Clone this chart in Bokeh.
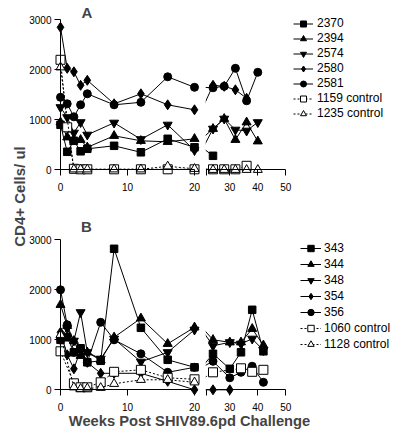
import math
from bokeh.plotting import figure
from bokeh.models import (Range1d, LinearAxis, FixedTicker, Legend, LegendItem,
                          Label, BoxAnnotation)
from bokeh.embed import file_html
from bokeh.resources import INLINE

# ---------------- data ----------------
# Panel A
A_NAMES = ["2370", "2394", "2574", "2580", "2581", "1159 control", "1235 control"]
A_WEEKS_2370 = [0, 1, 2, 3, 4, 8, 12, 16, 20, 24]
A_CD4_2370 = [900, 360, 580, 370, 420, 480, 350, 620, 450, 280]
A_WEEKS_2394 = [0, 1, 2, 3, 4, 8, 12, 16, 20, 24, 28, 32, 36, 40]
A_CD4_2394 = [950, 650, 600, 600, 450, 680, 580, 560, 620, 820, 1020, 600, 950, 570]
A_WEEKS_2574 = [0, 1, 2, 3, 4, 8, 12, 16, 20, 24, 28, 32, 36, 40]
A_CD4_2574 = [1250, 1050, 740, 950, 700, 940, 610, 900, 390, 820, 1020, 800, 780, 950]
A_WEEKS_2580 = [0, 1, 2, 3, 4, 8, 12, 16, 20, 24, 28, 32, 36]
A_CD4_2580 = [2850, 2030, 1960, 1690, 1790, 1320, 1520, 1300, 1200, 1690, 1670, 1600, 1430]
A_WEEKS_2581 = [0, 1, 2, 3, 4, 8, 12, 16, 20, 24, 28, 32, 36, 40]
A_CD4_2581 = [1450, 1320, 1060, 1300, 1520, 1300, 1350, 1860, 1650, 1640, 1670, 2030, 1380, 1950]
A_WEEKS_1159 = [0, 1, 2, 3, 4, 8, 12, 16, 20, 24, 28, 32, 36]
A_CD4_1159 = [2200, 850, 20, 10, 10, 10, 10, 10, 10, 10, 10, 10, 80]
A_WEEKS_1235 = [0, 2, 3, 4, 8, 12, 16, 20, 24, 28, 32, 36, 40]
A_CD4_1235 = [2050, 10, 10, 10, 10, 10, 70, 20, 0, 0, 0, 0, 0]

# Panel B
B_NAMES = ["343", "344", "348", "354", "356", "1060 control", "1128 control"]
B_WEEKS_ALL = [0, 1, 2, 3, 4, 6, 8, 12, 16, 20, 24, 30, 34, 38, 42]
B_CD4_343 = [1000, 1050, 750, 830, 550, 580, 2820, 1240, 600, 450, 720, 420, 750, 1600, 770]
B_CD4_344 = [1700, 1280, 980, 680, 750, 590, 1050, 1430, 920, 1250, 1000, 950, 950, 1220, 890]
B_CD4_348 = [1000, 1230, 980, 1550, 750, 620, 1020, 560, 750, 1200, 880, 950, 920, 1020, 790]
B_WEEKS_354 = [0, 1, 2, 3, 4, 6, 8, 12, 16, 20, 24, 30]
B_CD4_354 = [1150, 700, 420, 800, 550, 330, 330, 330, 170, 0, 0, 0]
B_CD4_356 = [2000, 1300, 750, 820, 550, 1350, 1000, 720, 350, 450, 570, 240, 350, 470, 150]
B_WEEKS_1060 = [0, 2, 3, 4, 6, 8, 12, 16, 20, 24, 34, 38, 42]
B_CD4_1060 = [770, 130, 50, 50, 150, 360, 400, 240, 210, 350, 430, 360, 400]
B_WEEKS_1128 = [0, 2, 3, 4, 6, 8, 12, 16, 20]
B_CD4_1128 = [1100, 50, 20, 30, 40, 120, 200, 200, 150]

Y_TICKS = [0, 1000, 2000, 3000]
X1_TICKS = [0, 10, 20]
X2_TICKS = [30, 40, 50]

# ---------------- layout (canvas pixels) ----------------
W, H = 400, 429
X0_SEG1, PX_WK1 = 60.0, 6.7        # week 0 position, px per week (0-20)
X30_SEG2, PX_WK2 = 229.3, 2.8      # week 30 position, px per week (after the break)
Y0_A, Y0_B, PX_UNIT = 169.3, 389.3, 0.05
SEG2_START = 21.5
FONT = "Liberation Sans"

x1 = Range1d(-X0_SEG1 / PX_WK1, (W - X0_SEG1) / PX_WK1)
x2 = Range1d(30 - X30_SEG2 / PX_WK2, 30 + (W - X30_SEG2) / PX_WK2)
yB = Range1d(-(H - Y0_B) / PX_UNIT, Y0_B / PX_UNIT)
yA = Range1d(-(H - Y0_A) / PX_UNIT, Y0_A / PX_UNIT)

def cx1(px):  # canvas px -> segment-1 weeks
    return (px - X0_SEG1) / PX_WK1

def cyB(py):
    return (Y0_B - py) / PX_UNIT

def cyA(py):
    return (Y0_A - py) / PX_UNIT

p = figure(width=W, height=H, x_range=x1, y_range=yB, min_border=0,
           x_axis_location=None, y_axis_location=None,
           toolbar_location=None, output_backend="svg",
           outline_line_color=None, background_fill_color="white",
           border_fill_color="white")
p.extra_x_ranges = {"seg2": x2}
p.extra_y_ranges = {"A": yA}
p.grid.visible = False

STYLES = [
    dict(marker="square", size=7.5, fill="black", dash="solid"),
    dict(marker="triangle", size=9, fill="black", dash="solid"),
    dict(marker="inverted_triangle", size=9, fill="black", dash="solid"),
    dict(marker="diamond", size=10, fill="black", dash="solid"),
    dict(marker="circle", size=8, fill="black", dash="solid"),
    dict(marker="square", size=9, fill="white", dash="2 2"),
    dict(marker="triangle", size=9, fill="white", dash="2 2"),
]

def draw_series(weeks, vals, st, yname):
    w1 = [w for w in weeks if w <= 20]
    v1 = [v for w, v in zip(weeks, vals) if w <= 20]
    ln = p.line(w1, v1, line_color="black", line_width=1, line_dash=st["dash"],
                y_range_name=yname)
    sc = p.scatter(w1, v1, marker=st["marker"], size=st["size"], fill_color=st["fill"],
                   line_color="black", line_width=1, y_range_name=yname)
    later = [i for i, w in enumerate(weeks) if w > 20]
    if later:
        i0 = later[0] - 1
        p.line(weeks[i0:], vals[i0:], line_color="black", line_width=1,
               line_dash=st["dash"], x_range_name="seg2", y_range_name=yname)
        p.scatter([weeks[i] for i in later], [vals[i] for i in later],
                  marker=st["marker"], size=st["size"], fill_color=st["fill"],
                  line_color="black", line_width=1,
                  x_range_name="seg2", y_range_name=yname)
    return [ln, sc]

A_SERIES = [(A_WEEKS_2370, A_CD4_2370), (A_WEEKS_2394, A_CD4_2394),
            (A_WEEKS_2574, A_CD4_2574), (A_WEEKS_2580, A_CD4_2580),
            (A_WEEKS_2581, A_CD4_2581), (A_WEEKS_1159, A_CD4_1159),
            (A_WEEKS_1235, A_CD4_1235)]
B_SERIES = [(B_WEEKS_ALL, B_CD4_343), (B_WEEKS_ALL, B_CD4_344),
            (B_WEEKS_ALL, B_CD4_348), (B_WEEKS_354, B_CD4_354),
            (B_WEEKS_ALL, B_CD4_356), (B_WEEKS_1060, B_CD4_1060),
            (B_WEEKS_1128, B_CD4_1128)]

itemsA, itemsB = [], []
for name, (wk, v), st in zip(A_NAMES, A_SERIES, STYLES):
    itemsA.append(LegendItem(label=name, renderers=draw_series(wk, v, st, "A")))
for name, (wk, v), st in zip(B_NAMES, B_SERIES, STYLES):
    itemsB.append(LegendItem(label=name, renderers=draw_series(wk, v, st, "default")))

# white masks over the axis-break gap
for yname in ["A", "default"]:
    p.add_layout(BoxAnnotation(left=cx1(199.7), right=cx1(205.2), bottom=-150, top=3080,
                               fill_color="white", fill_alpha=1, line_color=None,
                               y_range_name=yname))

def style_axis(ax, standoff):
    ax.axis_line_color = "black"
    ax.axis_line_width = 1
    ax.major_tick_line_color = "black"
    ax.major_tick_out = 6
    ax.major_tick_in = 0
    ax.minor_tick_line_color = None
    ax.major_label_text_font = FONT
    ax.major_label_text_font_size = "10px"
    ax.major_label_text_color = "black"
    ax.major_label_standoff = standoff

for yname in ["A", "default"]:
    ya = LinearAxis(y_range_name=yname, fixed_location=0, bounds=(0, 3000),
                    ticker=FixedTicker(ticks=Y_TICKS))
    style_axis(ya, 3)
    p.add_layout(ya, "left")
    xa1 = LinearAxis(y_range_name=yname, fixed_location=0, bounds=(0, 20),
                     ticker=FixedTicker(ticks=X1_TICKS))
    style_axis(xa1, 7)
    p.add_layout(xa1, "below")
    xa2 = LinearAxis(x_range_name="seg2", y_range_name=yname, fixed_location=0,
                     bounds=(SEG2_START, 50),
                     ticker=FixedTicker(ticks=[SEG2_START] + X2_TICKS),
                     major_label_overrides={SEG2_START: ""})
    style_axis(xa2, 7)
    p.add_layout(xa2, "below")

def make_legend(items, vx, top_px, row_h, gw, standoff):
    n = len(items)
    vy = H - (top_px + n * row_h)
    lg = Legend(items=items, location=(vx, vy), padding=0, margin=0, spacing=0,
                glyph_width=gw, glyph_height=row_h, label_height=row_h,
                label_standoff=standoff, border_line_color=None,
                background_fill_alpha=0, label_text_font=FONT,
                label_text_font_size="12px", label_text_color="black")
    p.add_layout(lg)

make_legend(itemsA, 293, 15.8, 15, 20, 4)
make_legend(itemsB, 300, 239.7, 16, 21, 3)

# panel letters and axis titles
p.add_layout(Label(x=cx1(86.5), y=cyA(12.0), y_range_name="A", text="A",
                   text_font=FONT, text_font_style="bold", text_font_size="15px",
                   text_align="center", text_baseline="middle"))
p.add_layout(Label(x=cx1(86.0), y=cyB(226.0), text="B",
                   text_font=FONT, text_font_style="bold", text_font_size="15px",
                   text_align="center", text_baseline="middle"))
p.add_layout(Label(x=cx1(19.0), y=cyB(196.0), text="CD4+ Cells/ ul", angle=math.pi / 2,
                   text_font=FONT, text_font_style="bold", text_font_size="15px",
                   text_align="center", text_baseline="alphabetic"))
p.add_layout(Label(x=cx1(189.0), y=cyB(420.0), text="Weeks Post SHIV89.6pd Challenge",
                   text_font=FONT, text_font_style="bold", text_font_size="14.7px",
                   text_align="center", text_baseline="alphabetic"))

open("out.html", "w").write(file_html(p, INLINE))
